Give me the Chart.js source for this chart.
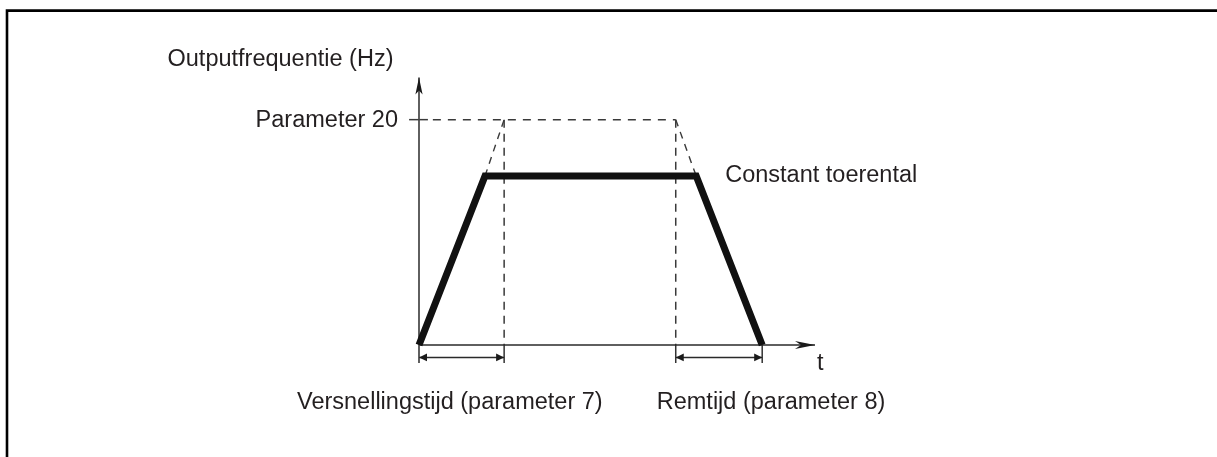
<!DOCTYPE html>
<html>
<head>
<meta charset="utf-8">
<script src="https://cdn.jsdelivr.net/npm/chart.js@4/dist/chart.umd.min.js"></script>
<style>
  html, body { margin: 0; padding: 0; background: #fff; }
  #wrap { position: relative; width: 1217px; height: 457px; }
  canvas { display: block; }
</style>
</head>
<body>
<div id="wrap"><canvas id="c" width="1217" height="457"></canvas></div>
<script>
// ---- data ----
const profileTime = [0, 10, 42, 52];          // t: start, end accel, start decel, stop
const profileFreq = [0, 60, 60, 0];           // output frequency along the profile
const setpointFreq = 80;                      // Parameter 20 level
const rampEndTimes = [12.9, 38.9];            // extrapolated ramps reach Parameter 20
const axisMaxTime = 60;
const axisMaxFreq = 95;
const axisLabelY = 'Outputfrequentie (Hz)';
const axisLabelX = 't';
const setpointLabel = 'Parameter 20';
const plateauLabel = 'Constant toerental';
const accelLabel = 'Versnellingstijd (parameter 7)';
const decelLabel = 'Remtijd (parameter 8)';

const DIM_Y = -4.4;   // dimension-arrow level (below time axis)
const TICK_Y = -6.4;  // bottom of drop ticks

const pts = (xs, ys) => xs.map((x, i) => ({ x: x, y: ys[i] }));
const TEXT = '#231f20';
const FONT = '23.5px "Liberation Sans", Arial, sans-serif';
const DASH_COLOR = '#3a3a3a';

const base = { showLine: true, pointRadius: 0, tension: 0, clip: false, fill: false,
               borderCapStyle: 'butt', borderJoinStyle: 'miter' };

const datasets = [
  Object.assign({}, base, { label: 'profile', data: pts(profileTime, profileFreq),
    borderColor: '#111', borderWidth: 7, order: 0 }),
  // setpoint dashed line and tick
  Object.assign({}, base, { data: [{x: -1.5, y: setpointFreq}, {x: 1.35, y: setpointFreq}],
    borderColor: DASH_COLOR, borderWidth: 1.5, order: 5 }),
  Object.assign({}, base, { data: [{x: 2.1, y: setpointFreq}, {x: rampEndTimes[1], y: setpointFreq}],
    borderColor: DASH_COLOR, borderWidth: 1.5, borderDash: [8, 7], order: 5 }),
  // dashed verticals
  Object.assign({}, base, { data: [{x: rampEndTimes[0], y: setpointFreq}, {x: rampEndTimes[0], y: 0}],
    borderColor: DASH_COLOR, borderWidth: 1.5, borderDash: [8, 6], order: 5 }),
  Object.assign({}, base, { data: [{x: rampEndTimes[1], y: setpointFreq}, {x: rampEndTimes[1], y: 0}],
    borderColor: DASH_COLOR, borderWidth: 1.5, borderDash: [8, 6], order: 5 }),
  // dashed ramp extrapolations
  Object.assign({}, base, { data: [{x: profileTime[1], y: profileFreq[1]}, {x: rampEndTimes[0], y: setpointFreq}],
    borderColor: DASH_COLOR, borderWidth: 1.4, borderDash: [7, 6], order: 5 }),
  Object.assign({}, base, { data: [{x: rampEndTimes[1], y: setpointFreq}, {x: profileTime[2], y: profileFreq[2]}],
    borderColor: DASH_COLOR, borderWidth: 1.4, borderDash: [7, 6], order: 5 }),
  // axes
  Object.assign({}, base, { data: [{x: 0, y: TICK_Y}, {x: 0, y: axisMaxFreq}],
    borderColor: '#444', borderWidth: 1.7, order: 4, arrowEnd: {len: 17, half: 3.6, indent: 4, color: '#1a1a1a'} }),
  Object.assign({}, base, { data: [{x: 0, y: 0}, {x: axisMaxTime, y: 0}],
    borderColor: '#2a2a2a', borderWidth: 1.7, order: 4, arrowEnd: {len: 20, half: 4, indent: 6, color: '#1a1a1a'} }),
  // drop ticks
  Object.assign({}, base, { data: [{x: rampEndTimes[0], y: 0}, {x: rampEndTimes[0], y: TICK_Y}],
    borderColor: '#333', borderWidth: 1.5, order: 4 }),
  Object.assign({}, base, { data: [{x: rampEndTimes[1], y: 0}, {x: rampEndTimes[1], y: TICK_Y}],
    borderColor: '#333', borderWidth: 1.5, order: 4 }),
  Object.assign({}, base, { data: [{x: profileTime[3], y: 0}, {x: profileTime[3], y: TICK_Y}],
    borderColor: '#333', borderWidth: 1.5, order: 4 }),
  // dimension arrows
  Object.assign({}, base, { data: [{x: 0, y: DIM_Y}, {x: rampEndTimes[0], y: DIM_Y}],
    borderColor: '#2a2a2a', borderWidth: 1.5, order: 4,
    arrowStart: {len: 8, half: 3.8, indent: 0, color: '#1a1a1a'}, arrowEnd: {len: 8, half: 3.8, indent: 0, color: '#1a1a1a'} }),
  Object.assign({}, base, { data: [{x: rampEndTimes[1], y: DIM_Y}, {x: profileTime[3], y: DIM_Y}],
    borderColor: '#2a2a2a', borderWidth: 1.5, order: 4,
    arrowStart: {len: 8, half: 3.8, indent: 0, color: '#1a1a1a'}, arrowEnd: {len: 8, half: 3.8, indent: 0, color: '#1a1a1a'} })
];

function drawHead(ctx, tip, from, a) {
  const dx = tip.x - from.x, dy = tip.y - from.y;
  const L = Math.hypot(dx, dy) || 1;
  const ux = dx / L, uy = dy / L, nx = -uy, ny = ux;
  const bx = tip.x - ux * a.len, by = tip.y - uy * a.len;
  ctx.beginPath();
  ctx.moveTo(tip.x, tip.y);
  ctx.lineTo(bx + nx * a.half, by + ny * a.half);
  ctx.lineTo(tip.x - ux * (a.len - a.indent), tip.y - uy * (a.len - a.indent));
  ctx.lineTo(bx - nx * a.half, by - ny * a.half);
  ctx.closePath();
  ctx.fillStyle = a.color;
  ctx.fill();
}

const arrowPlugin = {
  id: 'arrows',
  afterDatasetsDraw(chart) {
    const ctx = chart.ctx;
    chart.data.datasets.forEach((ds, i) => {
      const meta = chart.getDatasetMeta(i);
      const p = meta.data;
      if (!p || p.length < 2) return;
      ctx.save();
      if (ds.arrowEnd) drawHead(ctx, p[p.length - 1], p[p.length - 2], ds.arrowEnd);
      if (ds.arrowStart) drawHead(ctx, p[0], p[1], ds.arrowStart);
      ctx.restore();
    });
  }
};

const framePlugin = {
  id: 'frame',
  beforeDraw(chart) {
    const ctx = chart.ctx;
    ctx.save();
    ctx.fillStyle = '#fff';
    ctx.fillRect(0, 0, chart.width, chart.height);
    ctx.strokeStyle = '#000';
    ctx.lineWidth = 2.6;
    ctx.beginPath();
    ctx.moveTo(7, chart.height);
    ctx.lineTo(7, 10.6);
    ctx.lineTo(chart.width, 10.6);
    ctx.stroke();
    ctx.restore();
  }
};

const textPlugin = {
  id: 'texts',
  afterDraw(chart) {
    const ctx = chart.ctx, xs = chart.scales.x, ys = chart.scales.y;
    const X = v => xs.getPixelForValue(v), Y = v => ys.getPixelForValue(v);
    ctx.save();
    ctx.font = FONT;
    ctx.fillStyle = TEXT;
    ctx.textBaseline = 'alphabetic';
    ctx.textAlign = 'center';
    ctx.fillText(axisLabelY, X(0) - 138.5, Y(axisMaxFreq) - 11.5);
    ctx.textAlign = 'right';
    ctx.fillText(setpointLabel, X(0) - 21, Y(setpointFreq) + 7.5);
    ctx.textAlign = 'left';
    ctx.fillText(plateauLabel, X(profileTime[2]) + 29, Y(profileFreq[2]) + 6);
    ctx.fillText(axisLabelX, X(axisMaxTime) + 2, Y(0) + 25);
    ctx.fillText(accelLabel, X(0) - 122, Y(0) + 64);
    ctx.fillText(decelLabel, X(rampEndTimes[1]) - 19, Y(0) + 64);
    ctx.restore();
  }
};

new Chart(document.getElementById('c'), {
  type: 'scatter',
  data: { datasets: datasets },
  options: {
    responsive: false,
    animation: false,
    events: [],
    layout: { padding: { left: 419, right: 402, top: 77.4, bottom: 112 } },
    scales: {
      x: { type: 'linear', min: 0, max: axisMaxTime, display: false },
      y: { type: 'linear', min: 0, max: axisMaxFreq, display: false }
    },
    plugins: { legend: { display: false }, tooltip: { enabled: false }, title: { display: false } }
  },
  plugins: [framePlugin, arrowPlugin, textPlugin]
});
</script>
</body>
</html>
